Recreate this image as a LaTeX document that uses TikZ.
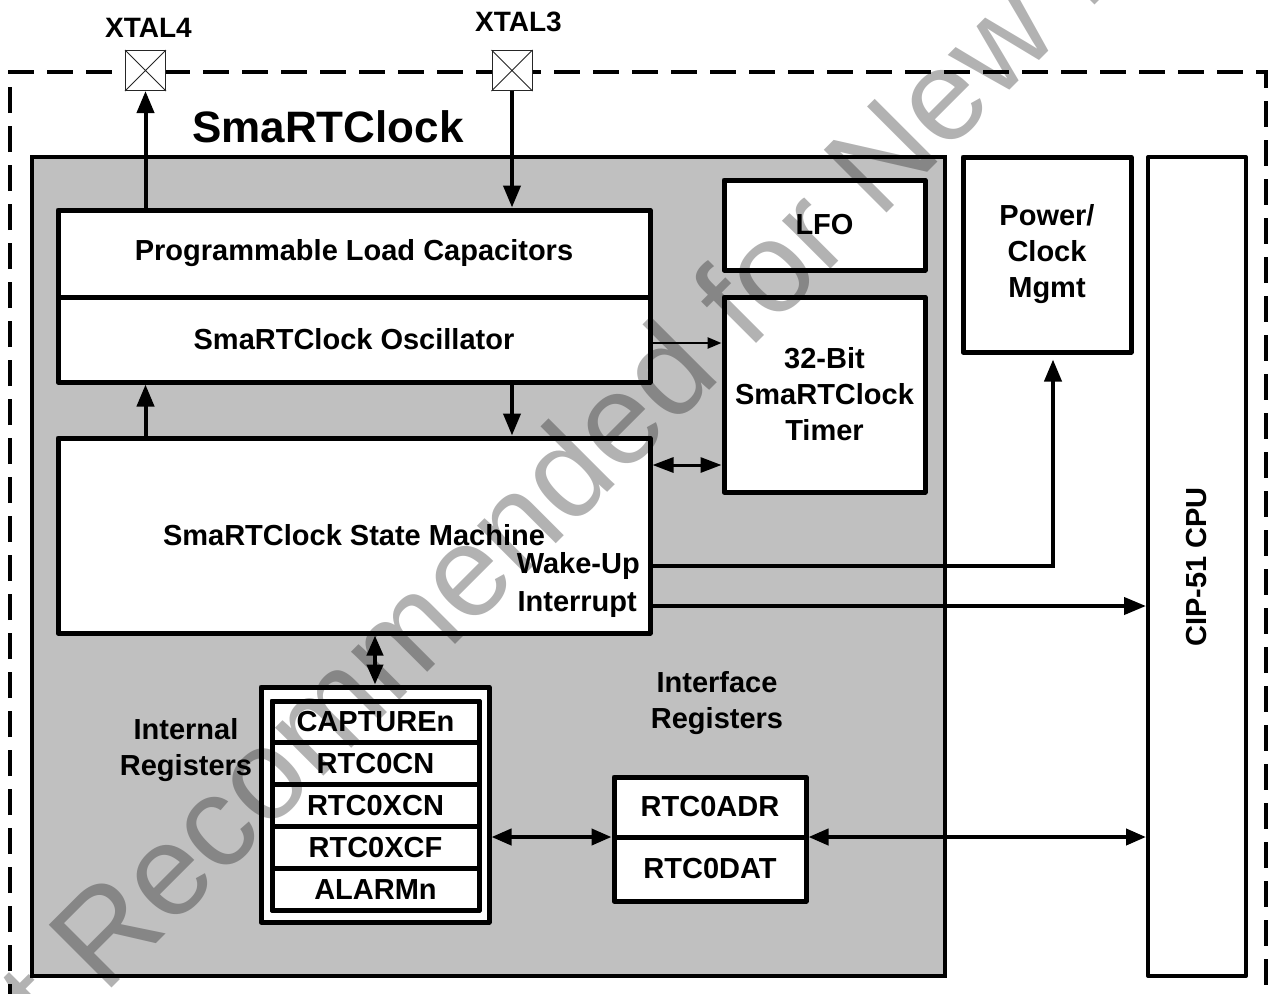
\documentclass[tikz,border=0pt]{standalone}
\usepackage{fontspec}
\setmainfont{Liberation Sans}
\usetikzlibrary{arrows.meta}
\definecolor{rtcgray}{HTML}{C0C0C0}
\tikzset{
  lab/.style={font=\fontsize{29}{36}\selectfont\bfseries, align=center, inner sep=0pt},
  box/.style={draw, line width=5pt, line join=round, fill=white, lab},
  pinbox/.style={draw=black!85, line width=1pt, fill=white, minimum width=40, minimum height=40, inner sep=0pt},
  outerline/.style={line width=4pt, dash pattern=on 26pt off 13pt},
  arr/.style={line width=4pt, -{Triangle[length=22pt,width=17pt]}},
  darr/.style={line width=4pt, {Triangle[length=20pt,width=16pt]}-{Triangle[length=20pt,width=16pt]}},
  darrthin/.style={line width=3pt, {Triangle[length=21pt,width=15pt]}-{Triangle[length=21pt,width=15pt]}},
  arrthin/.style={line width=2.5pt, -{Triangle[length=14pt,width=11pt]}},
  watermark/.style={font=\fontsize{129}{129}\selectfont\mdseries, text=black, text opacity=0.3, inner sep=0pt}
}
\begin{document}
\begin{tikzpicture}[x=1pt,y=-1pt]
\useasboundingbox (0,0) rectangle (1270,994);
\clip (0,0) rectangle (1270,994);
% outer dashed boundary
\draw[outerline] (10,1010) -- (10,72) -- (1266,72) -- (1266,1010);
% pins
\node[pinbox] (pin4) at (145.5,70.5) {};
\node[pinbox] (pin3) at (512,70.5) {};
\draw[line width=1pt, black!85] (pin4.north west) -- (pin4.south east) (pin4.north east) -- (pin4.south west);
\draw[line width=1pt, black!85] (pin3.north west) -- (pin3.south east) (pin3.north east) -- (pin3.south west);
\node[lab, font=\fontsize{28}{34}\selectfont\bfseries] (x4) at (148.5,28) {XTAL4};
\node[lab, font=\fontsize{28}{34}\selectfont\bfseries] (x3) at (518.5,22) {XTAL3};
\node[lab, font=\fontsize{44}{50}\selectfont\bfseries] (title) at (328,127) {SmaRTClock};
% SmaRTClock gray block
\node[draw, line width=4pt, fill=rtcgray, minimum width=913, minimum height=819, inner sep=0pt] (rtc) at (488.5,566.5) {};
% inner blocks
\node[box, minimum width=592, minimum height=87] (plc) at (354,253.5) {Programmable Load Capacitors};
\node[box, minimum width=592, minimum height=85] (osc) at (354,339.5) {SmaRTClock Oscillator};
\node[box, minimum width=592, minimum height=195] (sm) at (354,535.5) {SmaRTClock State Machine};
\node[box, minimum width=201, minimum height=90] (lfo) at (824.5,225) {LFO};
\node[box, minimum width=201, minimum height=195] (timer) at (824.5,394.5) {32-Bit\\SmaRTClock\\Timer};
\node[box, minimum width=168, minimum height=195] (power) at (1047,254.5) {Power/\\Clock\\Mgmt};
\node[box, line width=4pt, minimum width=98, minimum height=819] (cpu) at (1197,566.5) {};
\node[lab, rotate=90] (cputext) at (1197,567) {CIP-51 CPU};
% internal registers
\node[box, minimum width=228, minimum height=235] (regs) at (375,804.5) {};
\node[box, minimum width=207, minimum height=209] (regsin) at (375.5,805.5) {};
\node[box, minimum width=207, minimum height=41.8] (r1) at (375.5,721.9) {CAPTUREn};
\node[box, minimum width=207, minimum height=41.8] (r2) at (375.5,763.7) {RTC0CN};
\node[box, minimum width=207, minimum height=41.8] (r3) at (375.5,805.5) {RTC0XCN};
\node[box, minimum width=207, minimum height=41.8] (r4) at (375.5,847.3) {RTC0XCF};
\node[box, minimum width=207, minimum height=41.8] (r5) at (375.5,889.1) {ALARMn};
\node[lab] (intlab) at (186,750.5) {Internal\\Registers};
% interface registers
\node[box, minimum width=192, minimum height=60] (adr) at (710,807) {RTC0ADR};
\node[box, minimum width=192, minimum height=64] (dat) at (710,869) {RTC0DAT};
\node[lab] (iflab) at (717,703.5) {Interface\\Registers};
% state machine output labels
\node[lab, anchor=east] (wk) at (640,566) {Wake-Up};
\node[lab, anchor=east] (irq) at (637,605) {Interrupt};
% connectors
\draw[arr] (plc.north -| pin4) -- (pin4.south);
\draw[arr] (pin3.south) -- (plc.north -| pin3);
\draw[arr] (sm.north -| pin4) -- (osc.south -| pin4);
\draw[arr] (osc.south -| pin3) -- (sm.north -| pin3);
\draw[arrthin] (osc.east |- 0,343) -- (timer.west |- 0,343);
\draw[darrthin] (sm.east |- 0,465) -- (timer.west |- 0,465);
\draw[arr, shorten >=5pt] (sm.east |- 0,566) -| (power.south -| 1053,0);
\draw[arr] (sm.east |- 0,606) -- (cpu.west |- 0,606);
\draw[darr] (sm.south -| regs.north) -- (regs.north);
\draw[darr] (regs.east |- 0,837) -- (adr.west |- 0,837);
\draw[darr] (adr.east |- 0,837) -- (cpu.west |- 0,837);
% watermark
\node[watermark, rotate=45, anchor=base west] (wm) at (-63,1163) {Not Recommended for New Designs};
\end{tikzpicture}
\end{document}
